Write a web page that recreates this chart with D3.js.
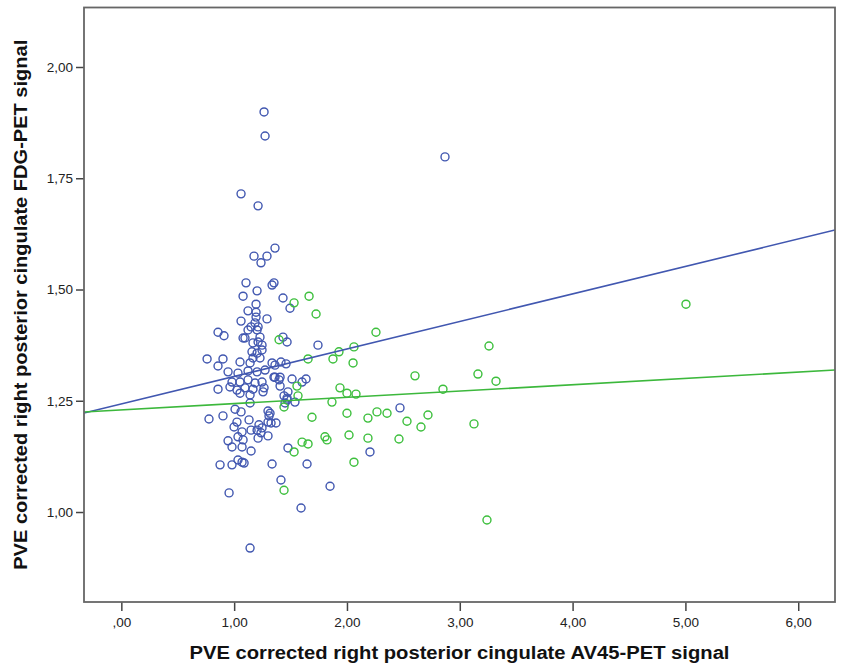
<!DOCTYPE html>
<html>
<head>
<meta charset="utf-8">
<script src="https://cdn.jsdelivr.net/npm/d3@7"></script>
<style>
  html, body { margin: 0; padding: 0; background: #fff; }
  svg { display: block; }
  text { font-family: "Liberation Sans", Arial, sans-serif; }
</style>
</head>
<body>
<svg id="chart" width="842" height="666"></svg>
<script>
// ---- Data ----
const blueX = [1.265,1.274,1.061,1.212,1.362,1.176,1.291,1.238,1.105,1.353,1.336,1.203,1.079,1.433,1.194,1.495,1.123,1.194,1.291,1.061,
  0.857,0.910,1.096,1.433,1.469,1.743,1.194,1.185,1.150,1.212,1.123,1.203,1.229,1.212,1.079,1.167,1.247,1.158,1.203,1.247,
  1.167,1.229,0.760,0.901,0.857,1.052,1.141,1.336,1.415,1.460,0.946,1.034,1.123,1.203,1.274,1.353,1.398,1.602,1.637,0.981,
  1.052,1.123,1.185,1.247,0.857,0.963,1.025,1.096,1.167,1.265,1.407,1.052,1.141,1.256,1.477,1.469,1.539,1.451,1.141,0.777,
  0.901,1.008,1.061,1.300,1.309,1.025,1.132,1.220,1.247,1.371,1.300,1.150,1.203,1.238,0.999,1.070,1.034,1.212,1.300,0.946,
  1.079,0.981,1.070,1.150,1.477,1.034,1.070,0.875,0.981,1.336,1.646,1.362,1.362,1.407,1.513,1.442,1.469,2.470,1.318,1.327,
  2.204,1.415,0.955,1.850,1.593,1.141,2.869,1.088];
const blueY = [1.899,1.845,1.715,1.688,1.593,1.575,1.575,1.560,1.515,1.515,1.510,1.497,1.485,1.481,1.467,1.458,1.452,1.449,1.434,1.429,
  1.404,1.396,1.391,1.393,1.382,1.375,1.438,1.425,1.416,1.416,1.409,1.409,1.393,1.382,1.391,1.380,1.375,1.360,1.357,1.364,
  1.346,1.346,1.344,1.344,1.328,1.337,1.335,1.335,1.337,1.333,1.315,1.312,1.317,1.315,1.319,1.303,1.297,1.292,1.299,1.292,
  1.292,1.297,1.290,1.292,1.276,1.281,1.274,1.279,1.276,1.279,1.283,1.267,1.263,1.270,1.270,1.256,1.247,1.245,1.245,1.209,
  1.216,1.231,1.225,1.227,1.216,1.202,1.207,1.196,1.189,1.200,1.202,1.184,1.184,1.178,1.191,1.180,1.169,1.166,1.171,1.160,
  1.162,1.146,1.146,1.137,1.144,1.117,1.112,1.106,1.106,1.108,1.108,1.330,1.303,1.303,1.299,1.261,1.252,1.234,1.222,1.200,
  1.135,1.072,1.043,1.058,1.009,0.919,1.798,1.110];

const greenX = [1.664,1.531,1.726,2.257,1.398,2.062,1.929,1.655,1.876,2.054,2.603,1.557,1.938,2.000,2.080,1.566,1.867,1.442,1.690,2.000,
  2.266,2.355,2.186,2.532,2.656,2.718,2.018,2.186,2.461,1.805,1.823,1.602,1.655,1.531,2.062,2.851,3.259,3.161,3.321,3.126,
  3.241,5.005,1.442];
const greenY = [1.485,1.470,1.445,1.404,1.387,1.371,1.360,1.344,1.344,1.335,1.306,1.283,1.279,1.267,1.265,1.261,1.247,1.236,1.213,1.222,
  1.225,1.222,1.211,1.204,1.191,1.218,1.173,1.166,1.164,1.169,1.162,1.157,1.153,1.135,1.112,1.276,1.373,1.310,1.294,1.198,
  0.982,1.467,1.049];

// Fit lines (endpoints across the plot range)
const fitX = [-0.331, 6.326];
const blueFitY = [1.2225, 1.6337];
const greenFitY = [1.2247, 1.319];

const xTicks = [0, 1, 2, 3, 4, 5, 6];
const yTicks = [1.00, 1.25, 1.50, 1.75, 2.00];
const xDomain = [-0.331, 6.326];
const yDomain = [0.7978, 2.1337];

const xTitle = "PVE corrected right posterior cingulate AV45-PET signal";
const yTitle = "PVE corrected right posterior cingulate FDG-PET signal";

// ---- Layout ----
const L = 84, R = 835, T = 7.5, B = 602;
const blueCol = "#4157b0", greenCol = "#3cbf3c";

const svg = d3.select("#chart");
const x = d3.scaleLinear().domain(xDomain).range([L, R]);
const y = d3.scaleLinear().domain(yDomain).range([B, T]);

const fmt = d => d3.format(".2f")(d).replace(".", ",").replace(/^0,/, ",");

svg.append("defs").append("clipPath").attr("id", "clip")
  .append("rect").attr("x", L).attr("y", T).attr("width", R - L).attr("height", B - T);

// axes
const xAxis = svg.append("g").attr("transform", `translate(0,${B})`)
  .call(d3.axisBottom(x).tickValues(xTicks).tickSize(9).tickPadding(6).tickFormat(fmt));
const yAxis = svg.append("g").attr("transform", `translate(${L},0)`)
  .call(d3.axisLeft(y).tickValues(yTicks).tickSize(8).tickPadding(3).tickFormat(fmt));
[xAxis, yAxis].forEach(g => {
  g.select(".domain").remove();
  g.selectAll(".tick line").attr("stroke", "#444").attr("stroke-width", 1.5);
  g.selectAll(".tick text").attr("fill", "#222").style("font-size", "13.5px")
    .style("font-family", "'Liberation Sans', Arial, sans-serif");
});

// points
const plot = svg.append("g").attr("clip-path", "url(#clip)");
plot.selectAll("circle.blue").data(d3.zip(blueX, blueY)).join("circle")
  .attr("class", "blue")
  .attr("cx", d => x(d[0])).attr("cy", d => y(d[1])).attr("r", 4)
  .attr("fill", "none").attr("stroke", blueCol).attr("stroke-width", 1.4);
plot.selectAll("circle.green").data(d3.zip(greenX, greenY)).join("circle")
  .attr("class", "green")
  .attr("cx", d => x(d[0])).attr("cy", d => y(d[1])).attr("r", 4)
  .attr("fill", "none").attr("stroke", greenCol).attr("stroke-width", 1.4);

// fit lines
const line = d3.line().x(d => x(d[0])).y(d => y(d[1]));
plot.append("path").datum(d3.zip(fitX, blueFitY)).attr("d", line)
  .attr("fill", "none").attr("stroke", blueCol).attr("stroke-width", 1.6);
plot.append("path").datum(d3.zip(fitX, greenFitY)).attr("d", line)
  .attr("fill", "none").attr("stroke", "#3cb83c").attr("stroke-width", 1.6);

// frame
svg.append("rect").attr("x", L).attr("y", T).attr("width", R - L).attr("height", B - T)
  .attr("fill", "none").attr("stroke", "#666").attr("stroke-width", 1.8);

// titles
svg.append("text").attr("x", (L + R) / 2).attr("y", 659).attr("text-anchor", "middle")
  .style("font-size", "18px").style("font-weight", "bold").attr("fill", "#111")
  .attr("textLength", 540).attr("lengthAdjust", "spacingAndGlyphs")
  .text(xTitle);
svg.append("text").attr("transform", `translate(27,${(T + B) / 2}) rotate(-90)`)
  .attr("text-anchor", "middle")
  .style("font-size", "18px").style("font-weight", "bold").attr("fill", "#111")
  .attr("textLength", 530).attr("lengthAdjust", "spacingAndGlyphs")
  .text(yTitle);
</script>
</body>
</html>
